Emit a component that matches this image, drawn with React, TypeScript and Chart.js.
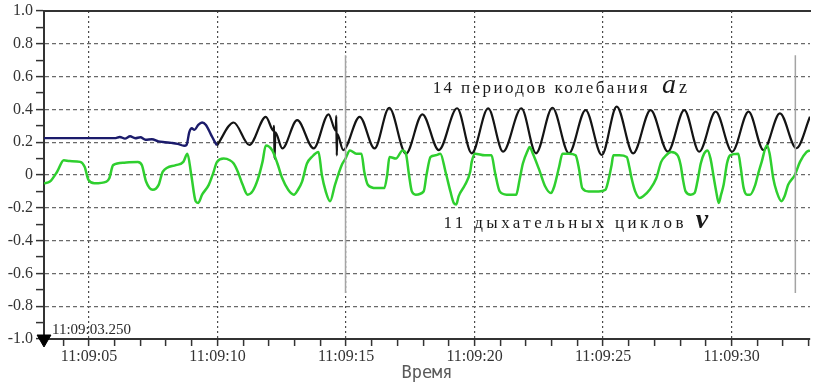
import React, { useEffect, useRef } from 'react';
import { Chart, registerables } from 'chart.js';

Chart.register(...registerables);

// ---- axis ranges (seconds after 11:09:00, and signal value) ----
const T_MIN = 3.25;
const T_MAX = 33.05;
const Y_MIN = -1.0;
const Y_MAX = 1.0;
const TIME_PREFIX = '11:09:';
const X_TITLE = 'Время';

// ---- acceleration a_z: early (navy) part ----
const azStartT = [3.25, 6.0, 6.2, 6.4, 6.6, 6.8, 7.0, 7.2, 7.45, 7.7, 7.95, 8.2, 8.45, 8.7, 8.8, 8.9, 9.0, 9.1, 9.25, 9.4, 9.55, 9.75, 9.9, 9.98];
const azStartV = [0.225, 0.225, 0.232, 0.222, 0.236, 0.224, 0.23, 0.215, 0.218, 0.205, 0.2, 0.196, 0.19, 0.178, 0.185, 0.26, 0.285, 0.275, 0.305, 0.32, 0.305, 0.245, 0.2, 0.18];

// ---- acceleration a_z: oscillating (black) part ----
const azT = [9.98, 10.63, 11.24, 11.88, 12.18, 12.2, 12.22, 12.25, 12.52, 13.1, 13.74, 14.32, 14.6, 14.62, 14.64, 14.66, 14.89, 15.53, 16.11, 16.68, 17.33, 17.97, 18.61, 19.32, 19.89, 20.53, 21.11, 21.82, 22.39, 23.03, 23.67, 24.32, 24.95, 25.53, 26.17, 26.85, 27.52, 28.16, 28.74, 29.38, 30.02, 30.66, 31.24, 31.88, 32.52, 33.05];
const azV = [0.18, 0.32, 0.183, 0.355, 0.27, 0.3, 0.1, 0.26, 0.162, 0.335, 0.162, 0.37, 0.27, 0.36, 0.12, 0.25, 0.152, 0.355, 0.162, 0.41, 0.13, 0.37, 0.152, 0.407, 0.132, 0.407, 0.142, 0.407, 0.132, 0.41, 0.132, 0.396, 0.122, 0.417, 0.132, 0.396, 0.142, 0.396, 0.142, 0.386, 0.142, 0.386, 0.152, 0.376, 0.163, 0.355];

// ---- breathing signal v (green) ----
const breathT = [3.25, 3.48, 3.76, 4.02, 4.25, 4.66, 4.83, 4.98, 5.21, 5.68, 5.79, 5.94, 6.37, 6.9, 7.06, 7.22, 7.48, 7.71, 7.87, 8.38, 8.67, 8.83, 8.98, 9.15, 9.25, 9.4, 9.66, 9.83, 9.98, 10.24, 10.48, 10.63, 10.79, 10.98, 11.17, 11.36, 11.56, 11.75, 11.88, 12.13, 12.33, 12.52, 12.75, 12.97, 13.13, 13.29, 13.48, 13.67, 13.93, 14.06, 14.21, 14.38, 14.57, 14.83, 14.98, 15.15, 15.4, 15.6, 15.71, 15.85, 16.17, 16.49, 16.6, 16.69, 16.94, 17.2, 17.33, 17.45, 17.56, 17.71, 18.02, 18.13, 18.29, 18.48, 18.67, 18.87, 19.06, 19.19, 19.29, 19.38, 19.63, 19.83, 19.89, 20.02, 20.4, 20.66, 20.79, 20.98, 21.25, 21.62, 21.75, 21.88, 22.07, 22.14, 22.27, 22.52, 22.75, 22.97, 23.1, 23.29, 23.42, 23.67, 23.93, 24.06, 24.19, 24.44, 24.83, 25.09, 25.21, 25.33, 25.4, 25.63, 25.92, 26.02, 26.11, 26.25, 26.43, 26.56, 26.81, 27.07, 27.26, 27.45, 27.65, 27.9, 28.02, 28.1, 28.21, 28.41, 28.56, 28.67, 28.8, 28.93, 29.06, 29.18, 29.31, 29.4, 29.5, 29.59, 29.69, 29.82, 29.94, 30.26, 30.35, 30.47, 30.6, 30.72, 30.92, 31.02, 31.17, 31.37, 31.48, 31.62, 31.75, 31.94, 32.06, 32.2, 32.46, 32.66, 32.91, 33.05];
const breathV = [-0.05, -0.04, 0.02, 0.09, 0.085, 0.08, 0.05, -0.03, -0.05, -0.04, -0.02, 0.06, 0.075, 0.08, 0.06, -0.04, -0.09, -0.06, 0.02, 0.06, 0.08, 0.13, 0.0, -0.16, -0.17, -0.12, -0.06, 0.01, 0.08, 0.1, 0.09, 0.07, 0.02, -0.06, -0.12, -0.1, -0.03, 0.08, 0.18, 0.15, 0.07, -0.02, -0.09, -0.12, -0.09, -0.04, 0.07, 0.11, 0.14, 0.0, -0.1, -0.16, -0.06, 0.06, 0.1, 0.15, 0.13, 0.13, 0.02, -0.06, -0.08, -0.08, 0.0, 0.11, 0.1, 0.15, 0.13, 0.0, -0.1, -0.12, -0.1, 0.0, 0.11, 0.12, 0.13, 0.02, -0.1, -0.17, -0.18, -0.13, -0.06, 0.02, 0.08, 0.13, 0.12, 0.12, 0.02, -0.1, -0.12, -0.12, -0.03, 0.07, 0.15, 0.17, 0.13, 0.03, -0.07, -0.11, -0.07, 0.05, 0.13, 0.13, 0.12, 0.04, -0.08, -0.1, -0.1, -0.09, -0.03, 0.06, 0.12, 0.12, 0.11, 0.05, -0.02, -0.1, -0.14, -0.13, -0.09, -0.02, 0.08, 0.12, 0.14, 0.12, 0.06, -0.02, -0.1, -0.12, -0.11, -0.04, 0.07, 0.13, 0.15, 0.1, -0.02, -0.1, -0.17, -0.12, -0.06, 0.07, 0.12, 0.13, 0.05, -0.08, -0.12, -0.12, -0.06, 0.0, 0.08, 0.18, 0.13, -0.02, -0.1, -0.16, -0.13, -0.06, 0.0, 0.08, 0.14, 0.15];

// ---- thin grey marker lines ----
const markerT = [14.98, 32.48];
const markerTopV = [0.73, 0.73];
const markerBottomV = [-0.72, -0.72];

// ---- cursor on the time axis ----
const cursorT = 3.25;
const cursorV = -1.0;
const cursorLabel = '11:09:03.250';

// ---- annotations (anchored in data coordinates) ----
const noteAzT = 18.37;
const noteAzV = 0.5;
const noteAzText = '14 периодов колебания';
const noteAzSymbol = 'a';
const noteAzSub = 'z';
const noteVT = 18.79;
const noteVV = -0.323;
const noteVText = '11 дыхательных циклов';
const noteVSymbol = 'v';

const SERIF = "'Liberation Serif', 'Times New Roman', serif";

function fmtTime(v: number): string {
  const s = Math.round(v);
  return TIME_PREFIX + (s < 10 ? '0' + s : String(s));
}

function zip(ts: number[], vs: number[]) {
  return ts.map((t, i) => ({ x: t, y: vs[i] }));
}

const textPlugin = {
  id: 'textNotes',
  afterDatasetsDraw(chart: any) {
    const { ctx, scales } = chart;
    const xs = scales.x;
    const ys = scales.y;
    const drawParts = (x0: number, y0: number, parts: { text: string; font: string; spacing: number; gap: number }[]) => {
      let x = x0;
      for (const p of parts) {
        x += p.gap;
        ctx.font = p.font;
        (ctx as any).letterSpacing = p.spacing + 'px';
        ctx.fillText(p.text, x, y0);
        x += ctx.measureText(p.text).width;
      }
    };
    ctx.save();
    ctx.fillStyle = '#1a1a1a';
    ctx.textAlign = 'left';
    ctx.textBaseline = 'alphabetic';
    drawParts(xs.getPixelForValue(noteAzT), ys.getPixelForValue(noteAzV), [
      { text: noteAzText, font: `17px ${SERIF}`, spacing: 2.4, gap: 0 },
      { text: noteAzSymbol, font: `italic 28px ${SERIF}`, spacing: 0, gap: 12 },
      { text: noteAzSub, font: `18px ${SERIF}`, spacing: 0, gap: 3 },
    ]);
    drawParts(xs.getPixelForValue(noteVT), ys.getPixelForValue(noteVV), [
      { text: noteVText, font: `17px ${SERIF}`, spacing: 3.4, gap: 0 },
      { text: noteVSymbol, font: `bold italic 28px ${SERIF}`, spacing: 0, gap: 9 },
    ]);
    // cursor time label
    (ctx as any).letterSpacing = '0px';
    ctx.font = `15px ${SERIF}`;
    ctx.fillStyle = '#2a2a2a';
    ctx.fillText(cursorLabel, xs.getPixelForValue(cursorT) + 8, ys.getPixelForValue(cursorV) - 5);
    ctx.restore();
  },
};

export default function App() {
  const ref = useRef<HTMLCanvasElement | null>(null);

  useEffect(() => {
    document.body.style.margin = '0';
    const canvas = ref.current;
    if (!canvas) return;

    const markerSets = markerT.map((t, i) => ({
      label: 'marker' + i,
      data: [
        { x: t, y: markerTopV[i] },
        { x: t, y: markerBottomV[i] },
      ],
      borderColor: '#a4a4a4',
      borderWidth: 1.5,
      pointRadius: 0,
      fill: false,
    }));

    const chart = new Chart(canvas, {
      type: 'line',
      data: {
        datasets: [
          ...markerSets,
          {
            label: 'v',
            data: zip(breathT, breathV),
            borderColor: '#2fcf2f',
            borderWidth: 2.5,
            pointRadius: 0,
            cubicInterpolationMode: 'monotone',
            fill: false,
          },
          {
            label: 'az (start)',
            data: zip(azStartT, azStartV),
            borderColor: '#1b1b6b',
            borderWidth: 2.4,
            pointRadius: 0,
            cubicInterpolationMode: 'monotone',
            fill: false,
          },
          {
            label: 'az',
            data: zip(azT, azV),
            borderColor: '#141414',
            borderWidth: 2.2,
            pointRadius: 0,
            cubicInterpolationMode: 'monotone',
            fill: false,
          },
          {
            label: 'cursor',
            data: [{ x: cursorT, y: cursorV }],
            showLine: false,
            pointStyle: 'triangle',
            rotation: 180,
            pointRadius: 8,
            backgroundColor: '#000000',
            borderColor: '#000000',
            borderWidth: 1,
            clip: false,
          } as any,
        ],
      },
      options: {
        animation: false,
        responsive: true,
        maintainAspectRatio: false,
        layout: { padding: 0 },
        plugins: {
          legend: { display: false },
          tooltip: { enabled: false },
        },
        scales: {
          x: {
            type: 'linear',
            position: 'bottom',
            min: T_MIN,
            max: T_MAX,
            afterFit: (s: any) => {
              s.height = 47;
            },
            ticks: {
              stepSize: 1,
              includeBounds: false,
              autoSkip: false,
              maxTicksLimit: 200,
              maxRotation: 0,
              minRotation: 0,
              padding: 1,
              color: '#333333',
              font: { family: SERIF, size: 16 },
              callback: (v: any) => (Math.round(Number(v)) % 5 === 0 ? fmtTime(Number(v)) : ''),
            },
            grid: {
              color: (c: any) => (c.tick && Math.round(c.tick.value) % 5 === 0 ? '#4a4a4a' : 'rgba(0,0,0,0)'),
              lineWidth: 1.2,
              tickColor: '#333333',
              tickLength: 7,
              tickWidth: 1.5,
            },
            border: { color: '#333333', width: 2, dash: [2, 3] },
            title: {
              display: true,
              text: X_TITLE,
              color: '#5a5a5a',
              font: { family: "'DejaVu Sans Mono', monospace", size: 17 },
              padding: { top: 0, bottom: 2 },
            },
          },
          x2: {
            type: 'linear',
            position: 'top',
            min: T_MIN,
            max: T_MAX,
            afterFit: (s: any) => {
              s.height = 11;
            },
            ticks: { display: false },
            grid: { drawOnChartArea: false, drawTicks: false },
            border: { color: '#333333', width: 2 },
          },
          y: {
            type: 'linear',
            min: Y_MIN,
            max: Y_MAX,
            afterFit: (s: any) => {
              s.width = 44;
            },
            ticks: {
              stepSize: 0.1,
              autoSkip: false,
              maxTicksLimit: 200,
              padding: 3,
              color: '#333333',
              font: { family: SERIF, size: 16, lineHeight: 1 },
              callback: (v: any) => {
                const k = Math.round(Number(v) * 10);
                if (k % 2 !== 0) return '';
                return k === 0 ? '0' : (k / 10).toFixed(1);
              },
            },
            grid: {
              color: (c: any) => {
                if (!c.tick) return 'rgba(0,0,0,0)';
                const k = Math.round(c.tick.value * 10);
                return k % 2 === 0 && Math.abs(k) < 10 ? '#6a6a6a' : 'rgba(0,0,0,0)';
              },
              lineWidth: 1.2,
              tickColor: '#333333',
              tickLength: 8,
              tickWidth: 1.5,
            },
            border: { color: '#333333', width: 2, dash: [4, 3] },
          },
        },
      } as any,
      plugins: [textPlugin],
    });

    return () => {
      chart.destroy();
    };
  }, []);

  return (
    <div style={{ position: 'absolute', left: 0, top: 0, width: 819, height: 386, background: '#ffffff' }}>
      <canvas ref={ref} />
    </div>
  );
}
